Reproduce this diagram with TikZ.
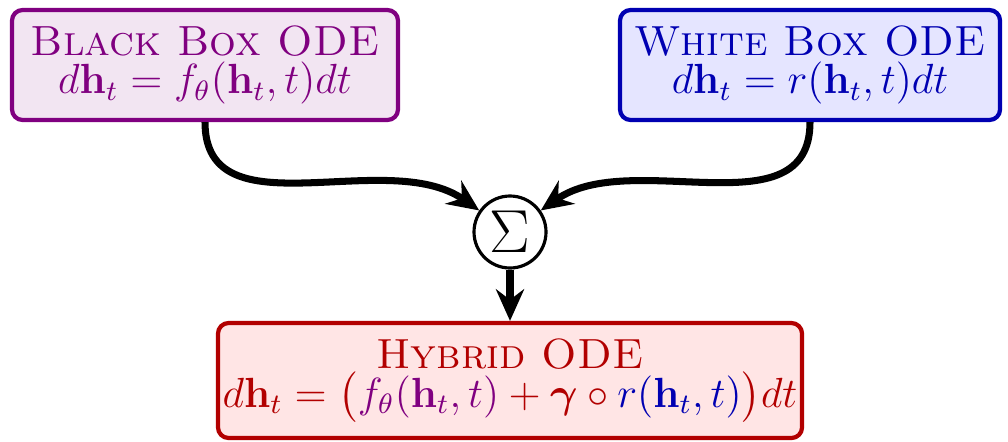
\documentclass[tikz,border=0pt]{standalone}
\usepackage{amsmath}
\usepackage{bm}
\usepackage{tikz}
\usetikzlibrary{arrows.meta}
\usepackage{xcolor}

\definecolor{bbcol}{RGB}{128,0,128}
\colorlet{wbcol}{blue!70!black}
\colorlet{hycol}{red!70!black}

\begin{document}
\begin{tikzpicture}[
    odebox/.style={draw, line width=1.2pt, rounded corners=3pt, align=center, inner sep=0pt, font=\large},
    flow/.style={line width=2pt, -{Stealth[length=9pt,width=8pt,inset=3pt]}}]
    \useasboundingbox (0,0) rectangle (10.08,4.41);
    \node (blackbox) at (2.05,3.76) [odebox, draw=bbcol, fill=bbcol!10, text=bbcol,
        minimum width=3.86cm, minimum height=1.1cm]
        {\textsc{Black Box ODE}\\[-3pt] $d\mathbf{h}_t = f_\theta(\mathbf{h}_t, t)dt$};
    \node (whitebox) at (8.10,3.76) [odebox, draw=wbcol, fill=blue!10, text=wbcol,
        minimum width=3.80cm, minimum height=1.1cm]
        {\textsc{White Box ODE}\\[-3pt] $d\mathbf{h}_t = r(\mathbf{h}_t, t)dt$};
    \node (sum) at (5.10,2.09) [circle, draw, line width=0.9pt, minimum size=0.72cm,
        inner sep=0pt, font=\LARGE] {$\Sigma$};
    \node (hybrid) at (5.10,0.605) [odebox, draw=hycol, fill=red!10, text=hycol,
        minimum width=5.84cm, minimum height=1.15cm]
        {\textsc{Hybrid ODE}\\[-3pt] $d\mathbf{h}_t = \big(\textcolor{bbcol}{f_\theta(\mathbf{h}_t, t)}
        + \bm{\gamma} \circ \textcolor{wbcol}{r(\mathbf{h}_t, t)}\big)dt$};
    \draw[flow] (blackbox.south) to[out=-90, in=145] (sum);
    \draw[flow] (whitebox.south) to[out=-90, in=35] (sum);
    \draw[flow] (sum) -- (hybrid);
\end{tikzpicture}
\end{document}
